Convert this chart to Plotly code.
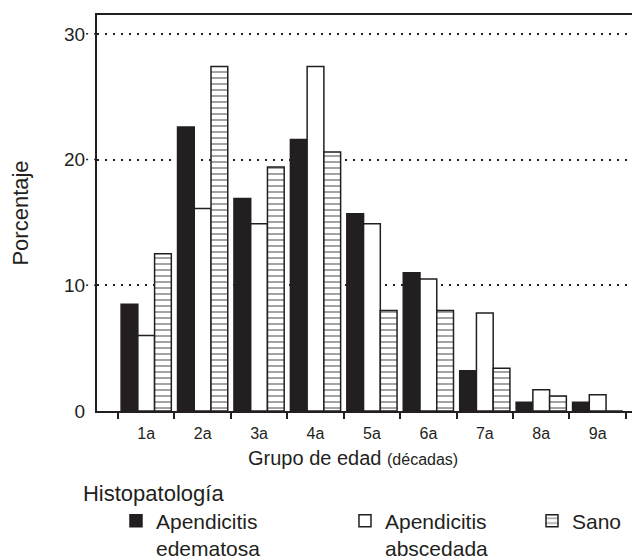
import plotly.graph_objects as go

categories = ["1a", "2a", "3a", "4a", "5a", "6a", "7a", "8a", "9a"]
edematosa = [8.5, 22.6, 16.9, 21.6, 15.7, 11.0, 3.2, 0.7, 0.7]
abscedada = [6.0, 16.1, 14.9, 27.4, 14.9, 10.5, 7.8, 1.7, 1.3]
sano = [12.5, 27.4, 19.4, 20.6, 8.0, 8.0, 3.4, 1.2, 0.0]
y_ticks = [0, 10, 20, 30]

INK = "#231f20"
FONT = "Liberation Sans, Arial, Helvetica, sans-serif"

fig = go.Figure()
fig.add_trace(go.Bar(
    x=categories, y=edematosa, name="Apendicitis<br>edematosa",
    marker=dict(color=INK, line=dict(color=INK, width=1.5)),
    legend="legend",
))
fig.add_trace(go.Bar(
    x=categories, y=abscedada, name="Apendicitis<br>abscedada",
    marker=dict(color="white", line=dict(color=INK, width=1.5)),
    legend="legend2",
))
fig.add_trace(go.Bar(
    x=categories, y=sano, name="Sano",
    marker=dict(color="white", line=dict(color=INK, width=1.5),
                pattern=dict(shape="-", size=6, solidity=0.3,
                             fgcolor="#333333", bgcolor="white", fillmode="overlay")),
    legend="legend3",
))

# short dotted tick extensions left of the y axis
for v in y_ticks[1:]:
    fig.add_shape(type="line", xref="paper", yref="y", x0=-0.02, x1=0, y0=v, y1=v,
                  line=dict(color=INK, width=1.5, dash="2px,6px"), layer="above")

fig.add_annotation(
    text="Grupo de edad <span style='font-size:16px'>(décadas)</span>",
    xref="paper", yref="paper", x=0.471, y=-0.119, xanchor="center", yanchor="middle",
    showarrow=False, font=dict(size=20, color=INK, family=FONT),
)

legend_common = dict(
    orientation="v", bgcolor="rgba(0,0,0,0)", borderwidth=0,
    font=dict(size=21, color=INK, family=FONT), valign="top",
    xanchor="left", yanchor="top", itemclick=False, itemdoubleclick=False,
)

# The page body has an 8px margin, so the figure is sized 8px smaller
fig.update_layout(
    width=632, height=552,
    margin=dict(l=89, r=0, t=7, b=149, autoexpand=False),
    paper_bgcolor="white", plot_bgcolor="white",
    font=dict(family=FONT, color=INK, size=18),
    barmode="group", bargap=0.11, bargroupgap=0,
    showlegend=True,
    legend=dict(**legend_common, x=-0.0295, y=-0.154, indentation=35,
                title=dict(text="Histopatología", side="top",
                           font=dict(size=22, color=INK, family=FONT))),
    legend2=dict(**legend_common, x=0.4567, y=-0.226),
    legend3=dict(**legend_common, x=0.8011, y=-0.226),
    xaxis=dict(
        type="category", range=[-0.872, 8.75],
        showline=True, linecolor=INK, linewidth=2, mirror=True,
        ticks="outside", tickson="boundaries", ticklen=6, tickwidth=1.5, tickcolor=INK,
        showgrid=False, tickfont=dict(size=16, color=INK, family=FONT),
        ticklabelstandoff=7,
    ),
    yaxis=dict(
        range=[0, 31.5], tickvals=y_ticks,
        showline=True, linecolor=INK, linewidth=2, mirror=False,
        ticks="outside", ticklen=6, tickcolor="rgba(0,0,0,0)",
        showgrid=True, gridcolor=INK, gridwidth=1.5, griddash="2px,6px",
        zeroline=False, tickfont=dict(size=19, color=INK, family=FONT),
        title=dict(text="Porcentaje", font=dict(size=22, color=INK, family=FONT), standoff=33),
        automargin=False,
    ),
)

fig.write_html("out.html")
